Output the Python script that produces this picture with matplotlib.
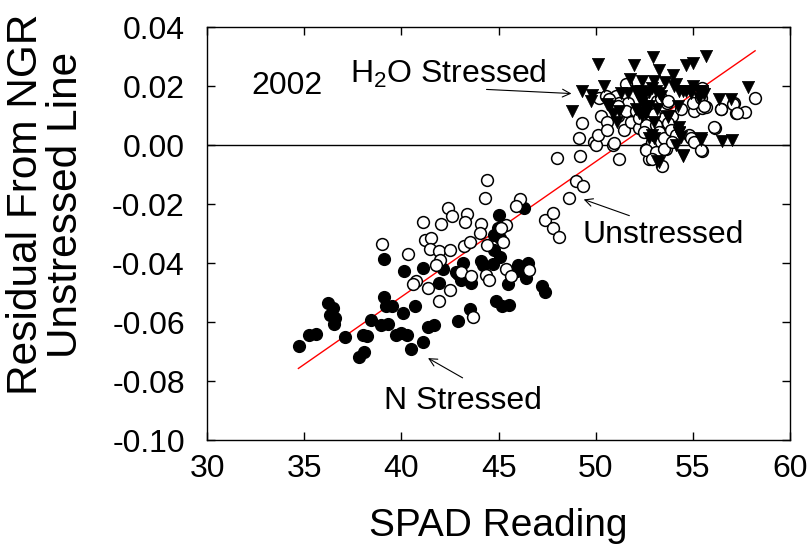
import numpy as np
import matplotlib
matplotlib.use('Agg')
import matplotlib.pyplot as plt

plt.rcParams['font.family'] = ['Liberation Sans', 'DejaVu Sans']
plt.rcParams['mathtext.default'] = 'regular'
plt.rcParams['axes.unicode_minus'] = False

# N stressed (filled circles): SPAD, residual
n_stressed = np.array([
    (34.74, -0.0681), (35.25, -0.0644), (35.63, -0.0640), (36.23, -0.0535), (36.49, -0.0552),
    (36.32, -0.0575), (36.57, -0.0587), (36.52, -0.0607), (37.12, -0.0649), (37.82, -0.0719),
    (38.10, -0.0702), (38.02, -0.0644), (38.23, -0.0647), (38.42, -0.0593), (39.10, -0.0515),
    (39.19, -0.0546), (39.54, -0.0546), (38.97, -0.0610), (39.31, -0.0606), (39.13, -0.0385),
    (40.12, -0.0428), (40.08, -0.0569), (39.74, -0.0644), (40.00, -0.0638), (40.31, -0.0642),
    (40.72, -0.0546), (40.51, -0.0692), (41.11, -0.0669), (41.11, -0.0416), (41.37, -0.0615),
    (41.66, -0.0610), (41.92, -0.0468), (42.14, -0.0420), (42.91, -0.0595), (42.83, -0.0431),
    (43.17, -0.0400), (43.09, -0.0458), (43.60, -0.0466), (43.51, -0.0556), (44.11, -0.0393),
    (44.20, -0.0408), (44.71, -0.0403), (45.05, -0.0380), (44.79, -0.0357), (44.76, -0.0303),
    (44.97, -0.0282), (45.05, -0.0316), (45.01, -0.0236), (44.88, -0.0529), (45.19, -0.0546),
    (45.56, -0.0541), (45.48, -0.0472), (45.99, -0.0408), (45.94, -0.0426), (46.51, -0.0400),
    (46.39, -0.0451), (46.33, -0.0213), (47.26, -0.0477), (47.41, -0.0497), (42.91, -0.0437),
])

# unstressed (open circles)
unstressed = np.array([
    (44.42, -0.0117), (44.31, -0.0179), (46.11, -0.0184), (45.90, -0.0207), (42.39, -0.0213),
    (42.61, -0.0239), (43.38, -0.0232), (43.29, -0.0262), (41.11, -0.0262), (42.02, -0.0268),
    (44.11, -0.0267), (44.07, -0.0297), (45.39, -0.0270), (45.13, -0.0282), (45.22, -0.0328),
    (44.40, -0.0337), (41.20, -0.0322), (41.54, -0.0316), (41.49, -0.0351), (41.92, -0.0359),
    (42.52, -0.0354), (43.22, -0.0343), (43.51, -0.0330), (40.34, -0.0368), (42.00, -0.0389),
    (41.79, -0.0405), (40.73, -0.0462), (40.60, -0.0472), (41.37, -0.0483), (42.52, -0.0492),
    (41.92, -0.0527), (43.07, -0.0431), (43.59, -0.0443), (44.33, -0.0441), (44.53, -0.0458),
    (45.39, -0.0420), (45.64, -0.0443), (46.59, -0.0423), (47.41, -0.0253), (47.82, -0.0230),
    (47.78, -0.0282), (48.13, -0.0311), (39.02, -0.0335), (43.67, -0.0581), (48.60, -0.0178),
    (48.97, -0.0121), (49.37, -0.0138),
    (47.99, -0.0044), (49.19, -0.0037), (51.18, -0.0046), (49.12, 0.0023), (49.30, 0.0075),
    (49.93, 0.0011), (50.02, 0.0000), (50.10, 0.0035), (50.90, 0.0000), (50.26, 0.0098),
    (50.60, 0.0080), (50.60, 0.0052), (50.17, 0.0161), (50.51, 0.0167), (51.03, 0.0167),
    (51.20, 0.0144), (51.64, 0.0144), (51.56, 0.0207), (51.12, 0.0098), (51.46, 0.0052),
    (51.80, 0.0080), (52.32, 0.0080), (52.24, 0.0057), (52.66, 0.0046), (52.57, -0.0012),
    (52.75, -0.0046), (53.00, -0.0029), (53.42, -0.0071), (53.16, 0.0149), (53.68, 0.0144),
    (53.09, 0.0104), (53.51, 0.0092), (53.35, 0.0057), (53.68, 0.0040), (52.92, 0.0011),
    (53.35, 0.0011), (53.60, -0.0012), (53.94, 0.0098), (54.38, 0.0121), (54.12, 0.0057),
    (54.81, 0.0035), (54.89, 0.0023), (55.06, 0.0115), (55.49, 0.0126), (55.66, 0.0129),
    (54.98, 0.0144), (55.41, 0.0161), (55.46, 0.0195), (55.49, -0.0021), (56.16, 0.0057),
    (56.42, 0.0121), (57.20, 0.0109), (57.68, 0.0111), (57.12, 0.0144), (58.19, 0.0161),
    (50.70, 0.0155), (51.12, 0.0132), (51.56, 0.0115), (52.06, 0.0115), (52.24, 0.0092),
    (50.96, 0.0006), (52.57, 0.0115), (53.00, 0.0104), (52.57, 0.0069), (53.09, 0.0069),
    (52.49, 0.0046), (53.27, 0.0046), (53.52, 0.0023), (53.70, 0.0075), (53.87, 0.0052),
    (54.12, 0.0035), (53.35, 0.0161), (53.70, 0.0149), (52.57, -0.0017), (53.09, -0.0023),
    (53.52, -0.0012), (53.94, 0.0011), (55.06, 0.0011), (52.92, -0.0046), (55.58, 0.0132),
    (56.08, 0.0063), (55.41, -0.0017), (57.08, 0.0140), (57.25, 0.0109), (56.47, 0.0121),
])

# H2O stressed (filled down triangles)
h2o_stressed = np.array([
    (50.10, 0.0276), (52.97, 0.0299), (55.66, 0.0301), (51.98, 0.0273), (53.27, 0.0255),
    (54.64, 0.0273), (54.98, 0.0278), (54.00, 0.0238), (51.78, 0.0226), (50.41, 0.0201),
    (52.40, 0.0218), (53.00, 0.0218), (53.58, 0.0213), (49.30, 0.0184), (49.81, 0.0169),
    (49.76, 0.0149), (51.30, 0.0178), (51.64, 0.0178), (52.06, 0.0184), (52.24, 0.0167),
    (52.75, 0.0180), (53.09, 0.0184), (53.35, 0.0167), (54.04, 0.0201), (54.30, 0.0184),
    (54.64, 0.0184), (54.98, 0.0201), (55.32, 0.0184), (55.57, 0.0173), (56.35, 0.0155),
    (56.95, 0.0155), (57.85, 0.0198), (48.78, 0.0115), (50.70, 0.0132), (50.87, 0.0104),
    (51.08, 0.0078), (52.06, 0.0121), (52.24, 0.0109), (52.40, 0.0144), (52.57, 0.0132),
    (53.70, 0.0094), (54.21, 0.0132), (52.92, 0.0035), (53.00, 0.0025), (54.30, 0.0046),
    (54.38, 0.0029), (54.12, 0.0000), (54.47, -0.0037), (55.41, 0.0023), (56.48, 0.0014),
    (57.03, 0.0017), (53.16, -0.0052), (54.12, 0.0207), (52.32, 0.0184), (52.92, 0.0195),
    (53.27, 0.0178), (52.49, 0.0167), (54.47, 0.0184), (54.89, 0.0178), (55.49, 0.0184),
    (55.32, 0.0161), (52.75, 0.0132), (53.16, 0.0121), (52.57, 0.0109), (53.70, 0.0098),
    (53.00, 0.0080), (54.30, 0.0063), (52.40, 0.0098), (54.30, 0.0040), (55.41, 0.0017),
    (54.47, -0.0035), (53.27, -0.0058), (52.75, 0.0023), (50.60, 0.0138), (51.20, 0.0115),
])

# regression line end points
fit_x = [34.7, 58.2]
fit_y = [-0.0757, 0.0320]

x_ticks = [30, 35, 40, 45, 50, 55, 60]
y_ticks = [-0.10, -0.08, -0.06, -0.04, -0.02, 0.00, 0.02, 0.04]

fig = plt.figure(figsize=(8.12, 5.44), dpi=100)
ax = fig.add_axes([0.255, 0.191, 0.718, 0.759])

ax.axhline(0, color='black', lw=1.0, zorder=1)
ax.plot(fit_x, fit_y, color='red', lw=1.0, zorder=1)

ax.scatter(n_stressed[:, 0], n_stressed[:, 1], s=72, c='black', edgecolors='black',
           linewidths=1.0, zorder=2)
ax.scatter(unstressed[:, 0], unstressed[:, 1], s=72, facecolors='white', edgecolors='black',
           linewidths=1.1, zorder=3)
ax.scatter(h2o_stressed[:, 0], h2o_stressed[:, 1], s=78, marker='v', c='black',
           edgecolors='black', linewidths=0.5, zorder=4)

ax.set_xlim(30, 60)
ax.set_ylim(-0.10, 0.04)
ax.set_xticks(x_ticks)
ax.set_yticks(y_ticks)
ax.set_xticklabels([str(t) for t in x_ticks])
ax.set_yticklabels(['%.2f' % t for t in y_ticks])
ax.tick_params(direction='in', length=6, width=1, top=True, right=True, labelsize=23)
ax.tick_params(axis='x', pad=10)
ax.tick_params(axis='y', pad=16)
for sp in ax.spines.values():
    sp.set_linewidth(1.0)

ax.set_xlabel('SPAD Reading', fontsize=28, labelpad=17)
ax.set_ylabel('Residual From NGR\nUnstressed Line', fontsize=30.5, linespacing=1.0)
ax.yaxis.set_label_coords(-0.207, 0.57)

ax.text(32.3, 0.0175, '2002', fontsize=23, va='baseline')
ax.text(37.35, 0.02125, 'H$_2$O Stressed', fontsize=23, va='baseline')
ax.text(49.33, -0.0331, 'Unstressed', fontsize=23, va='baseline')
ax.text(39.1, -0.0896, 'N Stressed', fontsize=23, va='baseline')

arrow = dict(arrowstyle='->', color='black', lw=0.8, shrinkA=0, shrinkB=0,
             mutation_scale=14)
ax.annotate('', xy=(48.75, 0.0175), xytext=(44.38, 0.0189), arrowprops=arrow)
ax.annotate('', xy=(49.38, -0.0184), xytext=(51.73, -0.0239), arrowprops=arrow)
ax.annotate('', xy=(41.37, -0.0722), xytext=(43.15, -0.0789), arrowprops=arrow)

fig.savefig('out.png', dpi=100)
